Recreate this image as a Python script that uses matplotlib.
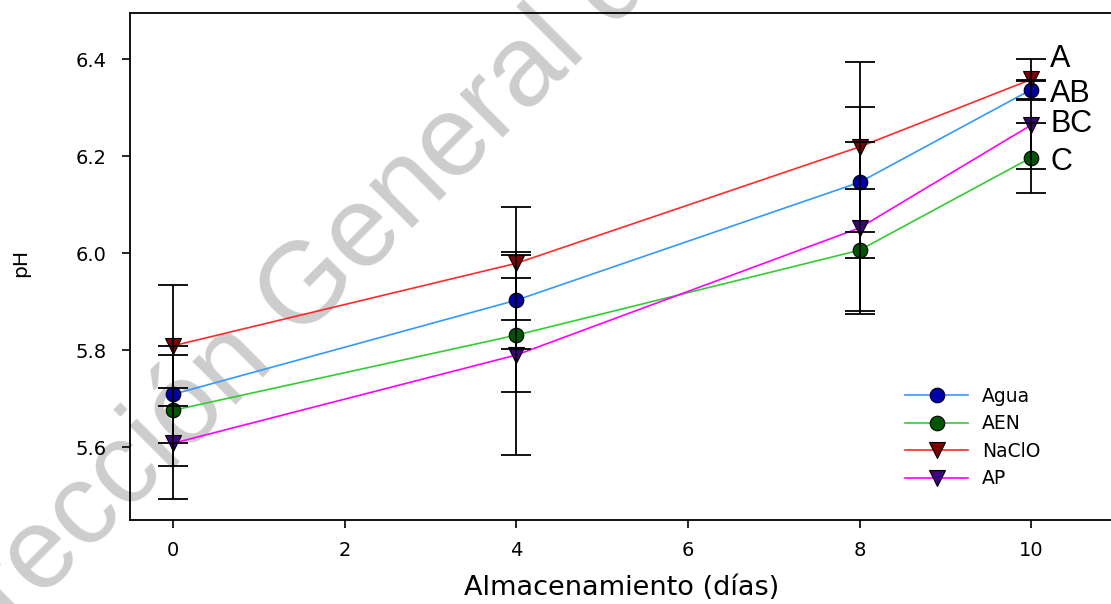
import numpy as np
import matplotlib
matplotlib.use('Agg')
import matplotlib.pyplot as plt

# datos
dias = [0, 4, 8, 10]
agua = [5.709, 5.903, 6.146, 6.337]
aen = [5.676, 5.831, 6.006, 6.197]
naclo = [5.809, 5.979, 6.219, 6.358]
ap = [5.608, 5.790, 6.052, 6.264]

agua_err = [0.10, 0.10, 0.155, 0.02]
aen_err = [0.115, 0.117, 0.126, 0.072]
naclo_err = [0.125, 0.116, 0.175, 0.043]
ap_err = [0.115, 0.206, 0.178, 0.09]

labels = ['Agua', 'AEN', 'NaClO', 'AP']
letras = ['A', 'AB', 'BC', 'C']
letras_y = [6.3835, 6.311, 6.249, 6.171]

line_colors = ['#3399ff', '#33cc33', '#ff2a2a', '#ff00ff']
face_colors = ['#0000aa', '#005500', '#800000', '#3c0080']
markers = ['o', 'o', 'v', 'v']
msizes = [10.5, 10.5, 11.5, 11.5]

plt.rcParams['font.family'] = 'DejaVu Sans'

fig = plt.figure(figsize=(11.11, 6.04), dpi=100)
ax = fig.add_axes([130 / 1111, 84 / 604, 981 / 1111, 507 / 604])
ax.patch.set_visible(False)

# marca de agua
fig.text(-0.058, -0.165, 'Dirección General de', family='Liberation Sans',
         fontsize=83, color='#cdcdcd', rotation=45, rotation_mode='anchor',
         ha='left', va='baseline', zorder=-1)

series = [agua, aen, naclo, ap]
errs = [agua_err, aen_err, naclo_err, ap_err]

for vals, err, lc, fc, mk, ms, lab in zip(series, errs, line_colors,
                                           face_colors, markers, msizes, labels):
    ax.plot(dias, vals, '-', color=lc, lw=1.2, marker=mk, ms=ms,
            mfc=fc, mec='black', mew=0.8, label=lab, zorder=3)
    ax.errorbar(dias, vals, yerr=err, fmt='none', ecolor='black',
                elinewidth=1.3, capsize=11, capthick=1.3, zorder=4)

for txt, yy in zip(letras, letras_y):
    ax.text(10.22, yy, txt, family='Liberation Sans', fontsize=22,
            ha='left', va='baseline', zorder=5)

ax.set_xlim(-0.5, 10.93)
ax.set_ylim(5.45, 6.495)
ax.set_xticks([0, 2, 4, 6, 8, 10])
ax.set_yticks([5.6, 5.8, 6.0, 6.2, 6.4])
ax.set_yticklabels(['5.6', '5.8', '6.0', '6.2', '6.4'])

ax.spines['right'].set_visible(False)
for s in ['left', 'top', 'bottom']:
    ax.spines[s].set_linewidth(1.3)
ax.tick_params(axis='both', direction='out', length=6, width=1.2,
               labelsize=14)
ax.tick_params(axis='y', pad=11)
ax.tick_params(axis='x', pad=9)

ax.set_xlabel('Almacenamiento (días)', fontsize=19.5)
ax.xaxis.set_label_coords(0.5015, -0.108)
ax.set_ylabel('pH', fontsize=14.5)
ax.yaxis.set_label_coords(-0.102, 0.507)

ax.legend(loc='upper left', bbox_to_anchor=(905 / 1111, 1 - 387 / 604),
          bbox_transform=fig.transFigure, frameon=False, fontsize=13.5,
          numpoints=1, handlelength=3.36, handletextpad=0.75,
          labelspacing=0.45, borderpad=0, borderaxespad=0)

fig.savefig('out.png', dpi=100)
